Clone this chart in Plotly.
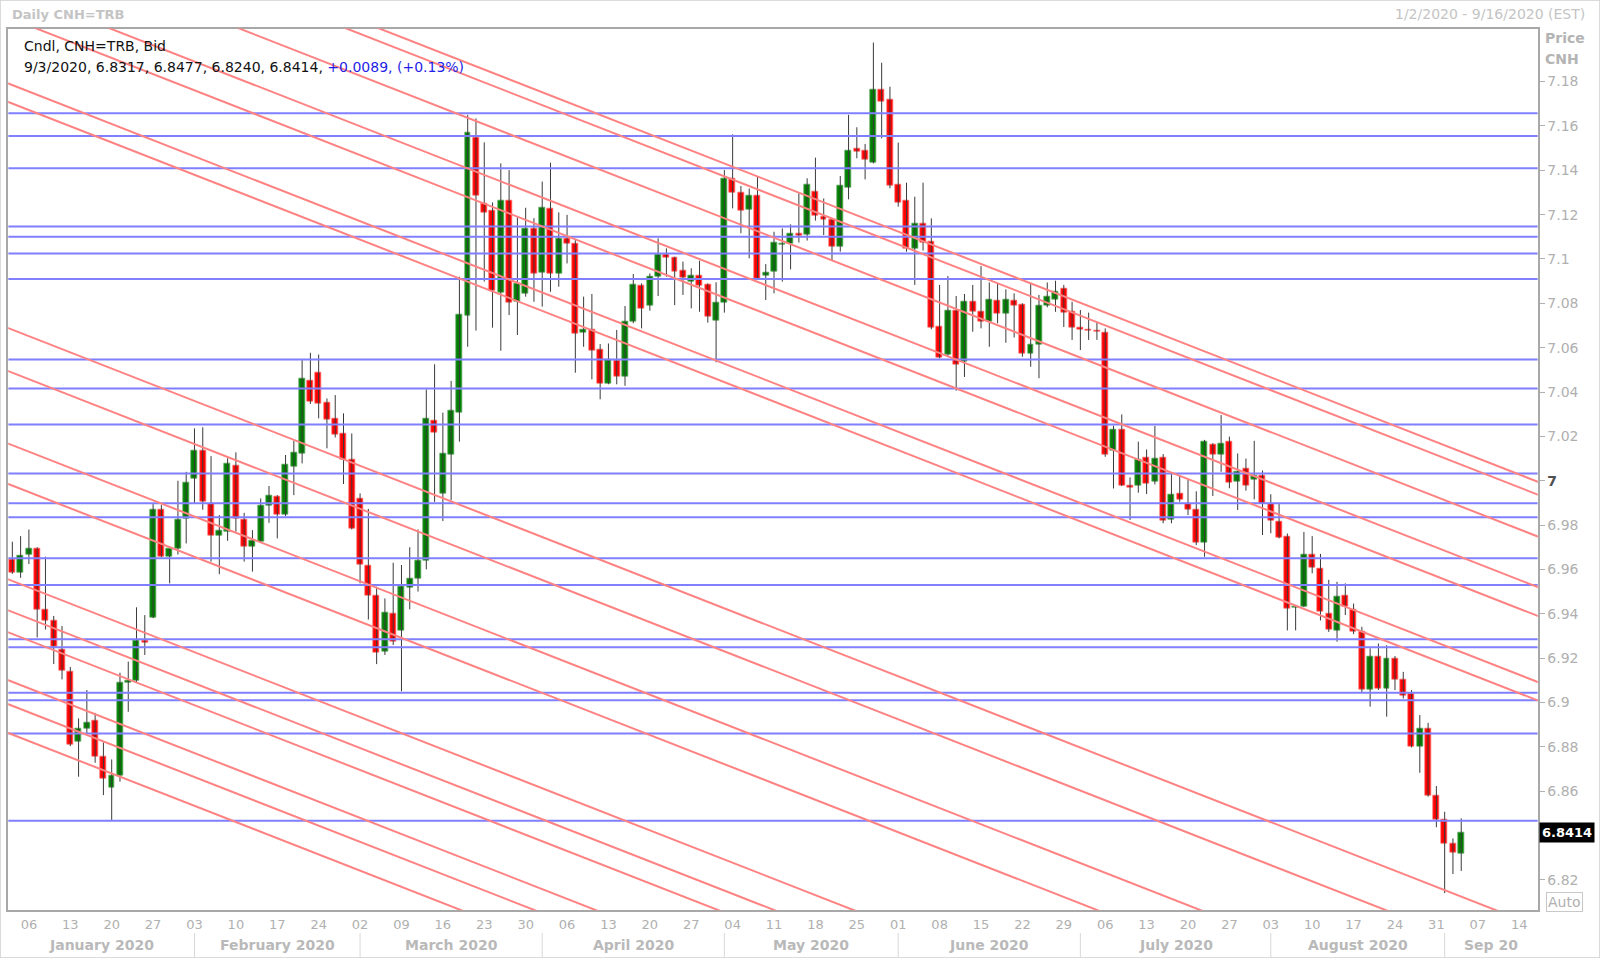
import pandas as pd
import plotly.graph_objects as go

# ---------------- data ----------------
dates = pd.bdate_range("2020-01-02", "2020-09-03")          # traded days
axis_dates = pd.bdate_range("2020-01-02", "2020-09-16")     # axis extent

opens = [6.9645, 6.9585, 6.9665, 6.9693, 6.9420, 6.9368, 6.9239, 6.9137, 6.8823, 6.8883,
         6.8920, 6.8758, 6.8617, 6.8668, 6.9089, 6.9100, 6.9278, 6.9384, 6.9871, 6.9657,
         6.9692, 6.9830, 7.0010, 7.0135, 6.9895, 6.9754, 6.9770, 7.0068, 6.9826, 6.9702,
         6.9725, 6.9890, 6.9930, 6.9845, 7.0063, 7.0124, 7.0450, 7.0489, 7.0352, 7.0281,
         7.0213, 7.0093, 6.9920, 6.9617, 6.9484, 6.9229, 6.9399, 6.9325, 6.9520, 6.9560,
         6.9640, 7.0271, 6.9943, 7.0120, 7.0309, 7.0745, 7.1547, 7.1251, 7.1217, 7.0848,
         7.1263, 7.0810, 7.0845, 7.1138, 7.0938, 7.1228, 7.0932, 7.1093, 7.1070, 7.0668,
         7.0683, 7.0592, 7.0438, 7.0541, 7.0469, 7.0717, 7.0878, 7.0789, 7.0920, 7.1021,
         7.1006, 7.0946, 7.0898, 7.0925, 7.0883, 7.0722, 7.0803, 7.1364, 7.1300, 7.1224,
         7.1288, 7.0923, 7.0943, 7.1063, 7.1070, 7.1113, 7.1108, 7.1304, 7.1191, 7.1176,
         7.1055, 7.1323, 7.1496, 7.1487, 7.1436, 7.1765, 7.1721, 7.1334, 7.1263, 7.1048,
         7.1158, 7.1078, 7.0697, 7.0567, 7.0767, 7.0537, 7.0807, 7.0762, 7.0717, 7.0812,
         7.0752, 7.0812, 7.0793, 7.0574, 7.0616, 7.0788, 7.0818, 7.0867, 7.0762, 7.0690,
         7.0683, 7.0677, 7.0668, 7.0135, 7.0229, 6.9980, 6.9976, 7.0105, 6.9996, 7.0105,
         6.9823, 6.9943, 6.9895, 6.9871, 6.9720, 7.0161, 7.0120, 7.0176, 6.9996, 7.0053,
         7.0007, 7.0022, 6.9897, 6.9815, 6.9747, 6.9428, 6.9430, 6.9665, 6.9605, 6.9401,
         6.9323, 6.9480, 6.9420, 6.9319, 6.9056, 6.9209, 6.9064, 6.9198, 6.9105, 6.9041,
         6.8803, 6.8883, 6.8578, 6.8473, 6.8364, 6.8317]
highs = [6.9725, 6.9750, 6.9780, 6.9700, 6.9657, 6.9390, 6.9345, 6.9160, 6.8928, 6.9056,
         6.8953, 6.8820, 6.8743, 6.9134, 6.9184, 6.9429, 6.9394, 6.9898, 6.9890, 6.9692,
         7.0000, 7.0040, 7.0236, 7.0241, 7.0111, 6.9845, 7.0101, 7.0128, 6.9855, 6.9777,
         6.9920, 6.9976, 6.9935, 7.0116, 7.0180, 7.0544, 7.0577, 7.0569, 7.0371, 7.0386,
         7.0304, 7.0213, 6.9943, 6.9873, 6.9522, 6.9469, 6.9630, 6.9620, 6.9700, 6.9780,
         7.0412, 7.0525, 7.0307, 7.0450, 7.0920, 7.1650, 7.1634, 7.1526, 7.1255, 7.1431,
         7.1401, 7.1188, 7.1231, 7.1184, 7.1349, 7.1434, 7.1210, 7.1199, 7.1085, 7.0830,
         7.0842, 7.0616, 7.0619, 7.0680, 7.0788, 7.0932, 7.0890, 7.0935, 7.1093, 7.1048,
         7.1010, 7.0988, 7.0958, 7.0992, 7.0890, 7.0895, 7.1401, 7.1562, 7.1329, 7.1318,
         7.1371, 7.0977, 7.1123, 7.1138, 7.1156, 7.1296, 7.1364, 7.1457, 7.1273, 7.1183,
         7.1374, 7.1650, 7.1594, 7.1519, 7.1976, 7.1885, 7.1777, 7.1525, 7.1344, 7.1281,
         7.1344, 7.1183, 7.0883, 7.0923, 7.0833, 7.0842, 7.0883, 7.0968, 7.0894, 7.0891,
         7.0863, 7.0845, 7.0800, 7.0888, 7.0838, 7.0894, 7.0902, 7.0883, 7.0807, 7.0770,
         7.0758, 7.0717, 7.0687, 7.0248, 7.0299, 7.0015, 7.0176, 7.0141, 7.0247, 7.0120,
         7.0030, 7.0022, 7.0007, 6.9952, 7.0184, 7.0169, 7.0296, 7.0199, 7.0123, 7.0100,
         7.0180, 7.0046, 6.9939, 6.9895, 6.9762, 6.9440, 6.9769, 6.9750, 6.9670, 6.9553,
         6.9544, 6.9537, 6.9446, 6.9341, 6.9244, 6.9266, 6.9258, 6.9209, 6.9138, 6.9056,
         6.8943, 6.8908, 6.8623, 6.8507, 6.8387, 6.8477]
lows = [6.9580, 6.9562, 6.9624, 6.9293, 6.9329, 6.9173, 6.9104, 6.8803, 6.8665, 6.8853,
        6.8728, 6.8582, 6.8470, 6.8643, 6.8958, 6.9090, 6.9214, 6.9380, 6.9655, 6.9537,
        6.9667, 6.9717, 6.9898, 6.9869, 6.9635, 6.9578, 6.9729, 6.9770, 6.9635, 6.9590,
        6.9720, 6.9810, 6.9740, 6.9840, 6.9935, 7.0078, 7.0346, 7.0281, 7.0146, 7.0195,
        6.9985, 6.9780, 6.9537, 6.9374, 6.9173, 6.9214, 6.9259, 6.9050, 6.9420, 6.9500,
        6.9600, 6.9905, 6.9818, 6.9912, 7.0176, 7.0604, 7.0677, 7.0898, 7.0690, 7.0586,
        7.0747, 7.0657, 7.0830, 7.0807, 7.0785, 7.0852, 7.0875, 7.0980, 7.0487, 7.0604,
        7.0457, 7.0367, 7.0435, 7.0435, 7.0428, 7.0710, 7.0687, 7.0767, 7.0833, 7.0920,
        7.0792, 7.0838, 7.0777, 7.0762, 7.0713, 7.0534, 7.0758, 7.1228, 7.1116, 7.1003,
        7.0910, 7.0815, 7.0845, 7.0898, 7.0953, 7.1074, 7.1083, 7.1173, 7.1108, 7.0995,
        7.1033, 7.1269, 7.1454, 7.1359, 7.1431, 7.1544, 7.1319, 7.1236, 7.1033, 7.0883,
        7.1038, 7.0683, 7.0552, 7.0559, 7.0406, 7.0468, 7.0672, 7.0687, 7.0604, 7.0710,
        7.0622, 7.0646, 7.0559, 7.0514, 7.0462, 7.0782, 7.0762, 7.0693, 7.0635, 7.0589,
        7.0635, 7.0635, 7.0108, 6.9965, 6.9976, 6.9823, 6.9946, 6.9940, 6.9983, 6.9808,
        6.9808, 6.9905, 6.9845, 6.9710, 6.9657, 6.9931, 7.0040, 6.9966, 6.9868, 6.9955,
        6.9916, 6.9755, 6.9763, 6.9740, 6.9325, 6.9325, 6.9430, 6.9582, 6.9370, 6.9318,
        6.9274, 6.9394, 6.9308, 6.9046, 6.8981, 6.9056, 6.8936, 6.9056, 6.9018, 6.8797,
        6.8683, 6.8575, 6.8437, 6.8140, 6.8226, 6.8240]
closes = [6.9585, 6.9662, 6.9693, 6.9420, 6.9368, 6.9251, 6.9143, 6.8812, 6.8883, 6.8910,
          6.8758, 6.8656, 6.8668, 6.9089, 6.9098, 6.9278, 6.9270, 6.9871, 6.9657, 6.9692,
          6.9823, 6.9990, 7.0135, 6.9905, 6.9752, 6.9773, 7.0078, 6.9830, 6.9702, 6.9730,
          6.9887, 6.9935, 6.9845, 7.0071, 7.0128, 7.0462, 7.0356, 7.0349, 7.0277, 7.0210,
          7.0096, 6.9785, 6.9620, 6.9481, 6.9224, 6.9406, 6.9274, 6.9522, 6.9560, 6.9640,
          7.0281, 7.0216, 7.0123, 7.0316, 7.0747, 7.1571, 7.1285, 7.1209, 7.0857, 7.1263,
          7.0804, 7.0887, 7.1138, 7.0932, 7.1233, 7.0932, 7.1093, 7.1070, 7.0665, 7.0683,
          7.0589, 7.0439, 7.0544, 7.0469, 7.0717, 7.0883, 7.0777, 7.0920, 7.1021, 7.1006,
          7.0943, 7.0917, 7.0925, 7.0880, 7.0740, 7.0804, 7.1364, 7.1300, 7.1218, 7.1284,
          7.0913, 7.0940, 7.1075, 7.1070, 7.1113, 7.1104, 7.1337, 7.1194, 7.1179, 7.1055,
          7.1329, 7.1487, 7.1484, 7.1446, 7.1765, 7.1712, 7.1331, 7.1255, 7.1048, 7.1158,
          7.1073, 7.0690, 7.0556, 7.0765, 7.0522, 7.0807, 7.0762, 7.0717, 7.0818, 7.0755,
          7.0818, 7.0788, 7.0574, 7.0612, 7.0788, 7.0830, 7.0852, 7.0757, 7.0690, 7.0683,
          7.0677, 7.0672, 7.0120, 7.0229, 6.9980, 6.9970, 7.0096, 6.9988, 7.0100, 6.9820,
          6.9938, 6.9913, 6.9868, 6.9720, 7.0176, 7.0120, 7.0169, 6.9991, 7.0040, 6.9976,
          7.0022, 6.9895, 6.9822, 6.9744, 6.9423, 6.9432, 6.9669, 6.9609, 6.9408, 6.9329,
          6.9477, 6.9432, 6.9319, 6.9056, 6.9209, 6.9064, 6.9198, 6.9101, 6.9033, 6.8800,
          6.8883, 6.8582, 6.8470, 6.8364, 6.8325, 6.8414]

# horizontal support / resistance levels (blue)
blue_levels = [7.1657, 7.1555, 7.1409, 7.1146, 7.1100, 7.1025, 7.0910, 7.0547, 7.0416,
               7.0254, 7.0033, 6.9898, 6.9835, 6.9650, 6.9530, 6.9285, 6.9249, 6.9044,
               6.9010, 6.8860, 6.8466]

# parallel down-trend lines (red): price on Jan 2, common slope per trading day
trend_anchor = [7.2687, 7.2629, 7.2440, 7.2212, 7.2082, 7.1784, 7.1701, 7.0681, 7.0487,
                7.0160, 6.9978, 6.9548, 6.9408, 6.9309, 6.9093, 6.8985, 6.8855]
trend_slope = -0.001461

y_ticks = [7.18, 7.16, 7.14, 7.12, 7.10, 7.08, 7.06, 7.04, 7.02, 7.00,
           6.98, 6.96, 6.94, 6.92, 6.90, 6.88, 6.86, 6.84, 6.82]
# the 6.84 label sits under the last-price box in the reference, so it is left blank
y_tick_labels = ["7.18", "7.16", "7.14", "7.12", "7.1", "7.08", "7.06", "7.04", "7.02",
                 "<b><span style='color:#505050'>7</span></b>",
                 "6.98", "6.96", "6.94", "6.92", "6.9", "6.88", "6.86", "", "6.82"]
month_labels = ["January 2020", "February 2020", "March 2020", "April 2020", "May 2020",
                "June 2020", "July 2020", "August 2020", "Sep 20"]

# ---------------- figure ----------------
W, H = 1600, 958
FONT = "DejaVu Sans"
X_MIN, X_MAX = -0.5, 184.25
Y_MIN, Y_MAX = 6.8063, 7.2039
xd = (8.2 / W, 1537.8 / W)
yd = (1 - 910.2 / H, 1 - 28.6 / H)

idx = list(range(len(dates)))

fig = go.Figure()

# wicks
wx, wy = [], []
for i in idx:
    wx += [i, i, None]
    wy += [lows[i], highs[i], None]
fig.add_trace(go.Scatter(x=wx, y=wy, mode="lines",
                         line=dict(color="#3a3a3a", width=1),
                         hoverinfo="skip", showlegend=False))

# bodies
base = [min(o, c) for o, c in zip(opens, closes)]
length = [max(abs(c - o), 0.00012) for o, c in zip(opens, closes)]
fill = ["#008000" if c >= o else "#ff0000" for o, c in zip(opens, closes)]
edge = ["#5aa55a" if c >= o else "#ff6a6a" for o, c in zip(opens, closes)]
fig.add_trace(go.Bar(x=idx, y=length, base=base, width=0.72,
                     marker=dict(color=fill, line=dict(color=edge, width=0.8)),
                     hoverinfo="skip", showlegend=False))

shapes = []
for lv in blue_levels:
    shapes.append(dict(type="line", xref="x", yref="y", x0=X_MIN, x1=X_MAX, y0=lv, y1=lv,
                       line=dict(color="#7f7fff", width=2), layer="above"))
for p0 in trend_anchor:
    shapes.append(dict(type="line", xref="x", yref="y",
                       x0=X_MIN - 2, y0=p0 + trend_slope * (X_MIN - 2),
                       x1=X_MAX + 2, y1=p0 + trend_slope * (X_MAX + 2),
                       line=dict(color="#ff8282", width=2), layer="above"))

# month separators and labels
month_starts = [i for i in range(1, len(axis_dates))
                if axis_dates[i].month != axis_dates[i - 1].month]
for m in month_starts:
    shapes.append(dict(type="line", xref="x", yref="paper", x0=m, x1=m,
                       y0=1 - 957 / H, y1=1 - 933 / H,
                       line=dict(color="#d8d8d8", width=1), layer="above"))
bounds = [X_MIN] + month_starts + [X_MAX]

# outer frame
shapes.append(dict(type="rect", xref="paper", yref="paper", x0=0, x1=1, y0=0, y1=1,
                   line=dict(color="#cfcfcf", width=1.5), layer="below"))

annotations = []
for k, lab in enumerate(month_labels):
    annotations.append(dict(x=(bounds[k] + bounds[k + 1]) / 2, xref="x",
                            y=1 - 945 / H, yref="paper", text="<b>" + lab + "</b>",
                            showarrow=False, xanchor="center", yanchor="middle",
                            font=dict(family=FONT, size=14, color="#b9b9b9")))

last = len(closes) - 1
chg = closes[last] - closes[last - 1]
pct = chg / closes[last - 1] * 100
d = dates[last]
info = (f"{d.month}/{d.day}/{d.year}, {opens[last]:.4f}, {highs[last]:.4f}, "
        f"{lows[last]:.4f}, {closes[last]:.4f}, "
        f"<span style='color:#1f1fe6'>{chg:+.4f}, ({pct:+.2f}%)</span>")

annotations += [
    dict(x=10 / W, y=1 - 14.5 / H, xref="paper", yref="paper", text="<b>Daily CNH=TRB</b>",
         showarrow=False, xanchor="left", yanchor="middle",
         font=dict(family=FONT, size=13, color="#c4c4c4")),
    dict(x=1587 / W, y=1 - 14.5 / H, xref="paper", yref="paper",
         text=f"{axis_dates[0].month}/{axis_dates[0].day}/{axis_dates[0].year} - "
              f"{axis_dates[-1].month}/{axis_dates[-1].day}/{axis_dates[-1].year} (EST)",
         showarrow=False, xanchor="right", yanchor="middle",
         font=dict(family=FONT, size=14, color="#c4c4c4")),
    dict(x=22 / W, y=1 - 46 / H, xref="paper", yref="paper", text="Cndl, CNH=TRB, Bid",
         showarrow=False, xanchor="left", yanchor="middle",
         font=dict(family=FONT, size=14, color="#111111")),
    dict(x=22 / W, y=1 - 67 / H, xref="paper", yref="paper", text=info,
         showarrow=False, xanchor="left", yanchor="middle",
         font=dict(family=FONT, size=14, color="#111111")),
    dict(x=1543 / W, y=1 - 38 / H, xref="paper", yref="paper", text="<b>Price</b>",
         showarrow=False, xanchor="left", yanchor="middle",
         font=dict(family=FONT, size=14, color="#b4b4b4")),
    dict(x=1543 / W, y=1 - 59.5 / H, xref="paper", yref="paper", text="<b>CNH</b>",
         showarrow=False, xanchor="left", yanchor="middle",
         font=dict(family=FONT, size=14, color="#b4b4b4")),
    dict(x=xd[1] + 1 / W, y=closes[last], xref="paper", yref="y",
         text=f"<b>{closes[last]:.4f}</b>", showarrow=False, xanchor="left",
         yanchor="middle", bgcolor="#000000", borderpad=2,
         font=dict(family=FONT, size=13, color="#ffffff")),
    dict(x=1564 / W, y=1 - 901.5 / H, xref="paper", yref="paper", text="Auto",
         showarrow=False, xanchor="center", yanchor="middle", bordercolor="#c8c8c8",
         borderwidth=1, borderpad=1, bgcolor="#ffffff",
         font=dict(family=FONT, size=14, color="#b0b0b0")),
]

mondays = [i for i, dd in enumerate(axis_dates) if dd.weekday() == 0]

fig.update_layout(
    width=W, height=H, autosize=False,
    margin=dict(l=0, r=0, t=0, b=0),
    paper_bgcolor="#ffffff", plot_bgcolor="#ffffff",
    showlegend=False, bargap=0, hovermode=False,
    shapes=shapes, annotations=annotations,
    xaxis=dict(domain=list(xd), range=[X_MIN, X_MAX], showgrid=False, zeroline=False,
               tickmode="array", tickvals=mondays,
               ticktext=[f"{axis_dates[i].day:02d}" for i in mondays],
               tickfont=dict(family=FONT, size=13, color="#b0b0b0"),
               ticks="outside", ticklen=1, tickcolor="#ffffff",
               showline=True, linecolor="#a8a8a8", linewidth=1.5, mirror=True,
               fixedrange=True),
    yaxis=dict(domain=list(yd), range=[Y_MIN, Y_MAX], side="right", showgrid=False,
               zeroline=False, tickmode="array", tickvals=y_ticks, ticktext=y_tick_labels,
               tickfont=dict(family=FONT, size=14, color="#b0b0b0"),
               ticks="outside", ticklen=5, tickcolor="#b0b0b0",
               showline=True, linecolor="#a8a8a8", linewidth=1.5, mirror=True,
               fixedrange=True),
)

fig.write_html("out.html", config={"displayModeBar": False},
               post_script="document.body.style.margin='0';"
                           "document.body.style.overflow='hidden';")
